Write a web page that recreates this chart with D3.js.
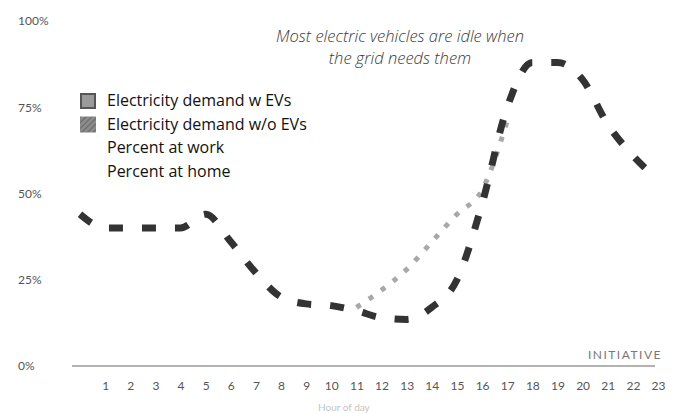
<!DOCTYPE html>
<html>
<head>
<meta charset="utf-8">
<script src="https://cdn.jsdelivr.net/npm/d3@7"></script>
<style>
  html, body { margin: 0; padding: 0; background: #fff; }
  svg { display: block; font-family: Lato, "Open Sans", sans-serif; }
</style>
</head>
<body>
<svg id="chart" width="682" height="414"></svg>
<script>
// ---- data ----
const hours = d3.range(0, 24);
const xTickLabels = d3.range(1, 24);
const yTickValues = [0, 25, 50, 75, 100];
const percentAtHome = [44, 40, 40, 40, 40, 44, 36, 27, 20, 18, 17.5, 16, 14, 13.5, 17, 25, 47, 75, 88, 88, 83, 70, 61, 54];
const workHours = [11, 12, 13, 14, 15, 16, 17];
const percentAtWork = [17, 22, 28, 36, 44, 51, 71];
const legendLabels = ["Electricity demand w EVs", "Electricity demand w/o EVs", "Percent at work", "Percent at home"];
const noteLines = ["Most electric vehicles are idle when", "the grid needs them"];

const svg = d3.select("#chart");
const x = d3.scaleLinear().domain([0, 23]).range([80, 658]);
const y = d3.scaleLinear().domain([0, 100]).range([366, 21]);

// hatch pattern
const defs = svg.append("defs");
const pat = defs.append("pattern").attr("id", "hatch").attr("patternUnits", "userSpaceOnUse")
  .attr("width", 4).attr("height", 4).attr("patternTransform", "rotate(45)");
pat.append("rect").attr("width", 4).attr("height", 4).attr("fill", "#8a8a8a");
pat.append("line").attr("x1", 0).attr("y1", 0).attr("x2", 0).attr("y2", 4).attr("stroke", "#5e5e5e").attr("stroke-width", 1.5);

// y axis labels
const yAxis = svg.append("g").attr("transform", "translate(18,0)")
  .call(d3.axisLeft(y).tickValues(yTickValues).tickSize(0).tickPadding(0).tickFormat(d => d + "%"));
yAxis.select(".domain").remove();
yAxis.selectAll("text").attr("text-anchor", "start").attr("x", 0)
  .attr("fill", "#555").style("font-size", "12px").style("font-family", "Lato, sans-serif");

// baseline
svg.append("line").attr("x1", x(0) - 8).attr("x2", x(23) - 3).attr("y1", y(0)).attr("y2", y(0))
  .attr("stroke", "#666").attr("stroke-width", 1);

// x axis labels
const xAxis = svg.append("g").attr("transform", `translate(0,${y(0)})`)
  .call(d3.axisBottom(x).tickValues(xTickLabels).tickSize(0).tickPadding(15).tickFormat(d3.format("d")));
xAxis.select(".domain").remove();
xAxis.selectAll("text").attr("fill", "#555").style("font-size", "12px").style("font-family", "Lato, sans-serif");

// axis title (faint, at the bottom edge)
svg.append("text").attr("x", x(10.5)).attr("y", 411).attr("text-anchor", "middle")
  .attr("fill", "#c4c4c4").style("font-size", "10px").text("Hour of day");

// watermark
svg.append("text").attr("x", 662).attr("y", 359).attr("text-anchor", "end")
  .attr("fill", "#777").style("font-size", "12px").style("letter-spacing", "1.5px").text("INITIATIVE");

// work line (dotted)
const line = d3.line().x(d => x(d[0])).y(d => y(d[1])).curve(d3.curveMonotoneX);
svg.append("path").datum(workHours.map((h, i) => [h, percentAtWork[i]]))
  .attr("d", line).attr("fill", "none").attr("stroke", "#a8a8a8")
  .attr("stroke-width", 5).attr("stroke-dasharray", "5,10");

// home line (dashed)
svg.append("path").datum(hours.map((h, i) => [h, percentAtHome[i]]))
  .attr("d", line).attr("fill", "none").attr("stroke", "#333")
  .attr("stroke-width", 7).attr("stroke-dasharray", "14,19");

// note
svg.append("g").selectAll("text").data(noteLines).join("text")
  .attr("x", 400).attr("y", (d, i) => 42 + i * 22).attr("text-anchor", "middle")
  .attr("fill", "#3a3a3a").style("font-family", "'Open Sans', sans-serif")
  .style("font-size", "16.5px").style("font-style", "italic").style("font-weight", 300).text(d => d);

// legend
const lg = svg.append("g").attr("transform", "translate(80,93)");
const rows = lg.selectAll("g").data(legendLabels).join("g")
  .attr("transform", (d, i) => `translate(0,${i * 23.5})`);
rows.filter((d, i) => i === 0).append("rect").attr("x", 1).attr("y", 1).attr("width", 14).attr("height", 14)
  .attr("fill", "#9a9a9a").attr("stroke", "#555").attr("stroke-width", 2);
rows.filter((d, i) => i === 1).append("rect").attr("x", 0).attr("y", 0).attr("width", 16).attr("height", 16)
  .attr("fill", "url(#hatch)");
rows.append("text").attr("x", 27).attr("y", 13).attr("fill", "#111")
  .style("font-family", "'Open Sans', sans-serif").style("font-weight", 500)
  .style("font-size", "16px").text(d => d);
</script>
</body>
</html>
